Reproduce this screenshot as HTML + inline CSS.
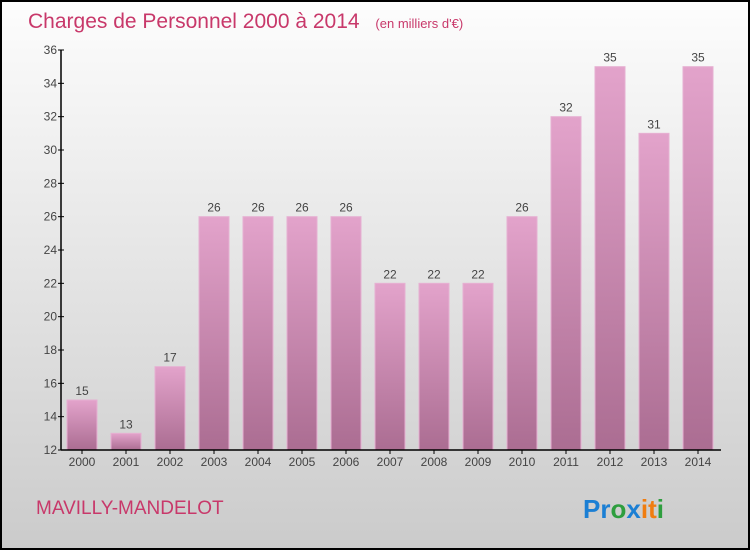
<!DOCTYPE html>
<html><head><meta charset="utf-8"><style>
body{margin:0;width:750px;height:550px;overflow:hidden;font-family:"Liberation Sans",sans-serif}
</style></head><body>
<svg id="chart" width="750" height="550" xmlns="http://www.w3.org/2000/svg">
<defs>
<linearGradient id="bg" x1="0" y1="0" x2="0" y2="1"><stop offset="0" stop-color="#fdfdfd"/><stop offset="1" stop-color="#cbcbcb"/></linearGradient>
<linearGradient id="bar" x1="0" y1="0" x2="0" y2="1"><stop offset="0" stop-color="#e3a3cb"/><stop offset="1" stop-color="#ab6d92"/></linearGradient>
</defs>
<rect x="1" y="1" width="748" height="548" fill="url(#bg)" stroke="#000" stroke-width="2"/>
<text x="28" y="28" font-size="21" fill="#c8386a">Charges de Personnel 2000 à 2014 <tspan font-size="13" dx="10">(en milliers d'€)</tspan></text>
<g id="plot"></g>
<text x="36" y="514" font-size="19" fill="#c8386a">MAVILLY-MANDELOT</text>
<text x="583" y="518" font-size="26" font-weight="bold"><tspan fill="#1b7fd4">Pr</tspan><tspan fill="#2e9e3e">o</tspan><tspan fill="#1b7fd4">x</tspan><tspan fill="#f07d10">i</tspan><tspan fill="#f07d10">t</tspan><tspan fill="#2e9e3e">i</tspan></text>
</svg>
<script>
const years=["2000","2001","2002","2003","2004","2005","2006","2007","2008","2009","2010","2011","2012","2013","2014"];
const values=[15,13,17,26,26,26,26,22,22,22,26,32,35,31,35];
const yTicks=[12,14,16,18,20,22,24,26,28,30,32,34,36];
const NS="http://www.w3.org/2000/svg";
const g=document.getElementById('plot');
const y0=450,y1=50,vmin=12,vmax=36;
function y(v){return y0-(v-vmin)/(vmax-vmin)*(y0-y1);}
function xc(i){return 82+i*44;}
function mk(t,a,txt){const e=document.createElementNS(NS,t);for(const k in a)e.setAttribute(k,a[k]);if(txt!==undefined)e.textContent=txt;g.appendChild(e);return e;}
values.forEach((v,i)=>{
 const r=mk('rect',{x:xc(i)-15,y:y(v),width:30,height:y0-y(v),fill:'url(#bar)',stroke:'#e6b0d2','stroke-width':1});
 
 
 const l=mk('text',{x:xc(i),y:y(v)-5,'font-size':12,fill:'#444','text-anchor':'middle'},String(v));
 
 
 const xl=mk('text',{x:xc(i),y:466,'font-size':12,fill:'#444','text-anchor':'middle'},years[i]);
 
 
 const xt=mk('line',{x1:xc(i),x2:xc(i),y1:450,y2:454,stroke:'#000'});
 
 
});
yTicks.forEach(t=>{
 const tl=mk('text',{x:57,y:y(t)+4,'font-size':12,fill:'#444','text-anchor':'end'},String(t));
 
 
 const tk=mk('line',{x1:58,x2:64,y1:y(t),y2:y(t),stroke:'#000'});
 
 
});
const ya=mk('line',{x1:61,x2:61,y1:50,y2:450,stroke:'#000','stroke-width':1.5});


const xa=mk('line',{x1:61,x2:721,y1:450,y2:450,stroke:'#000','stroke-width':1.5});


</script>
</body></html>
